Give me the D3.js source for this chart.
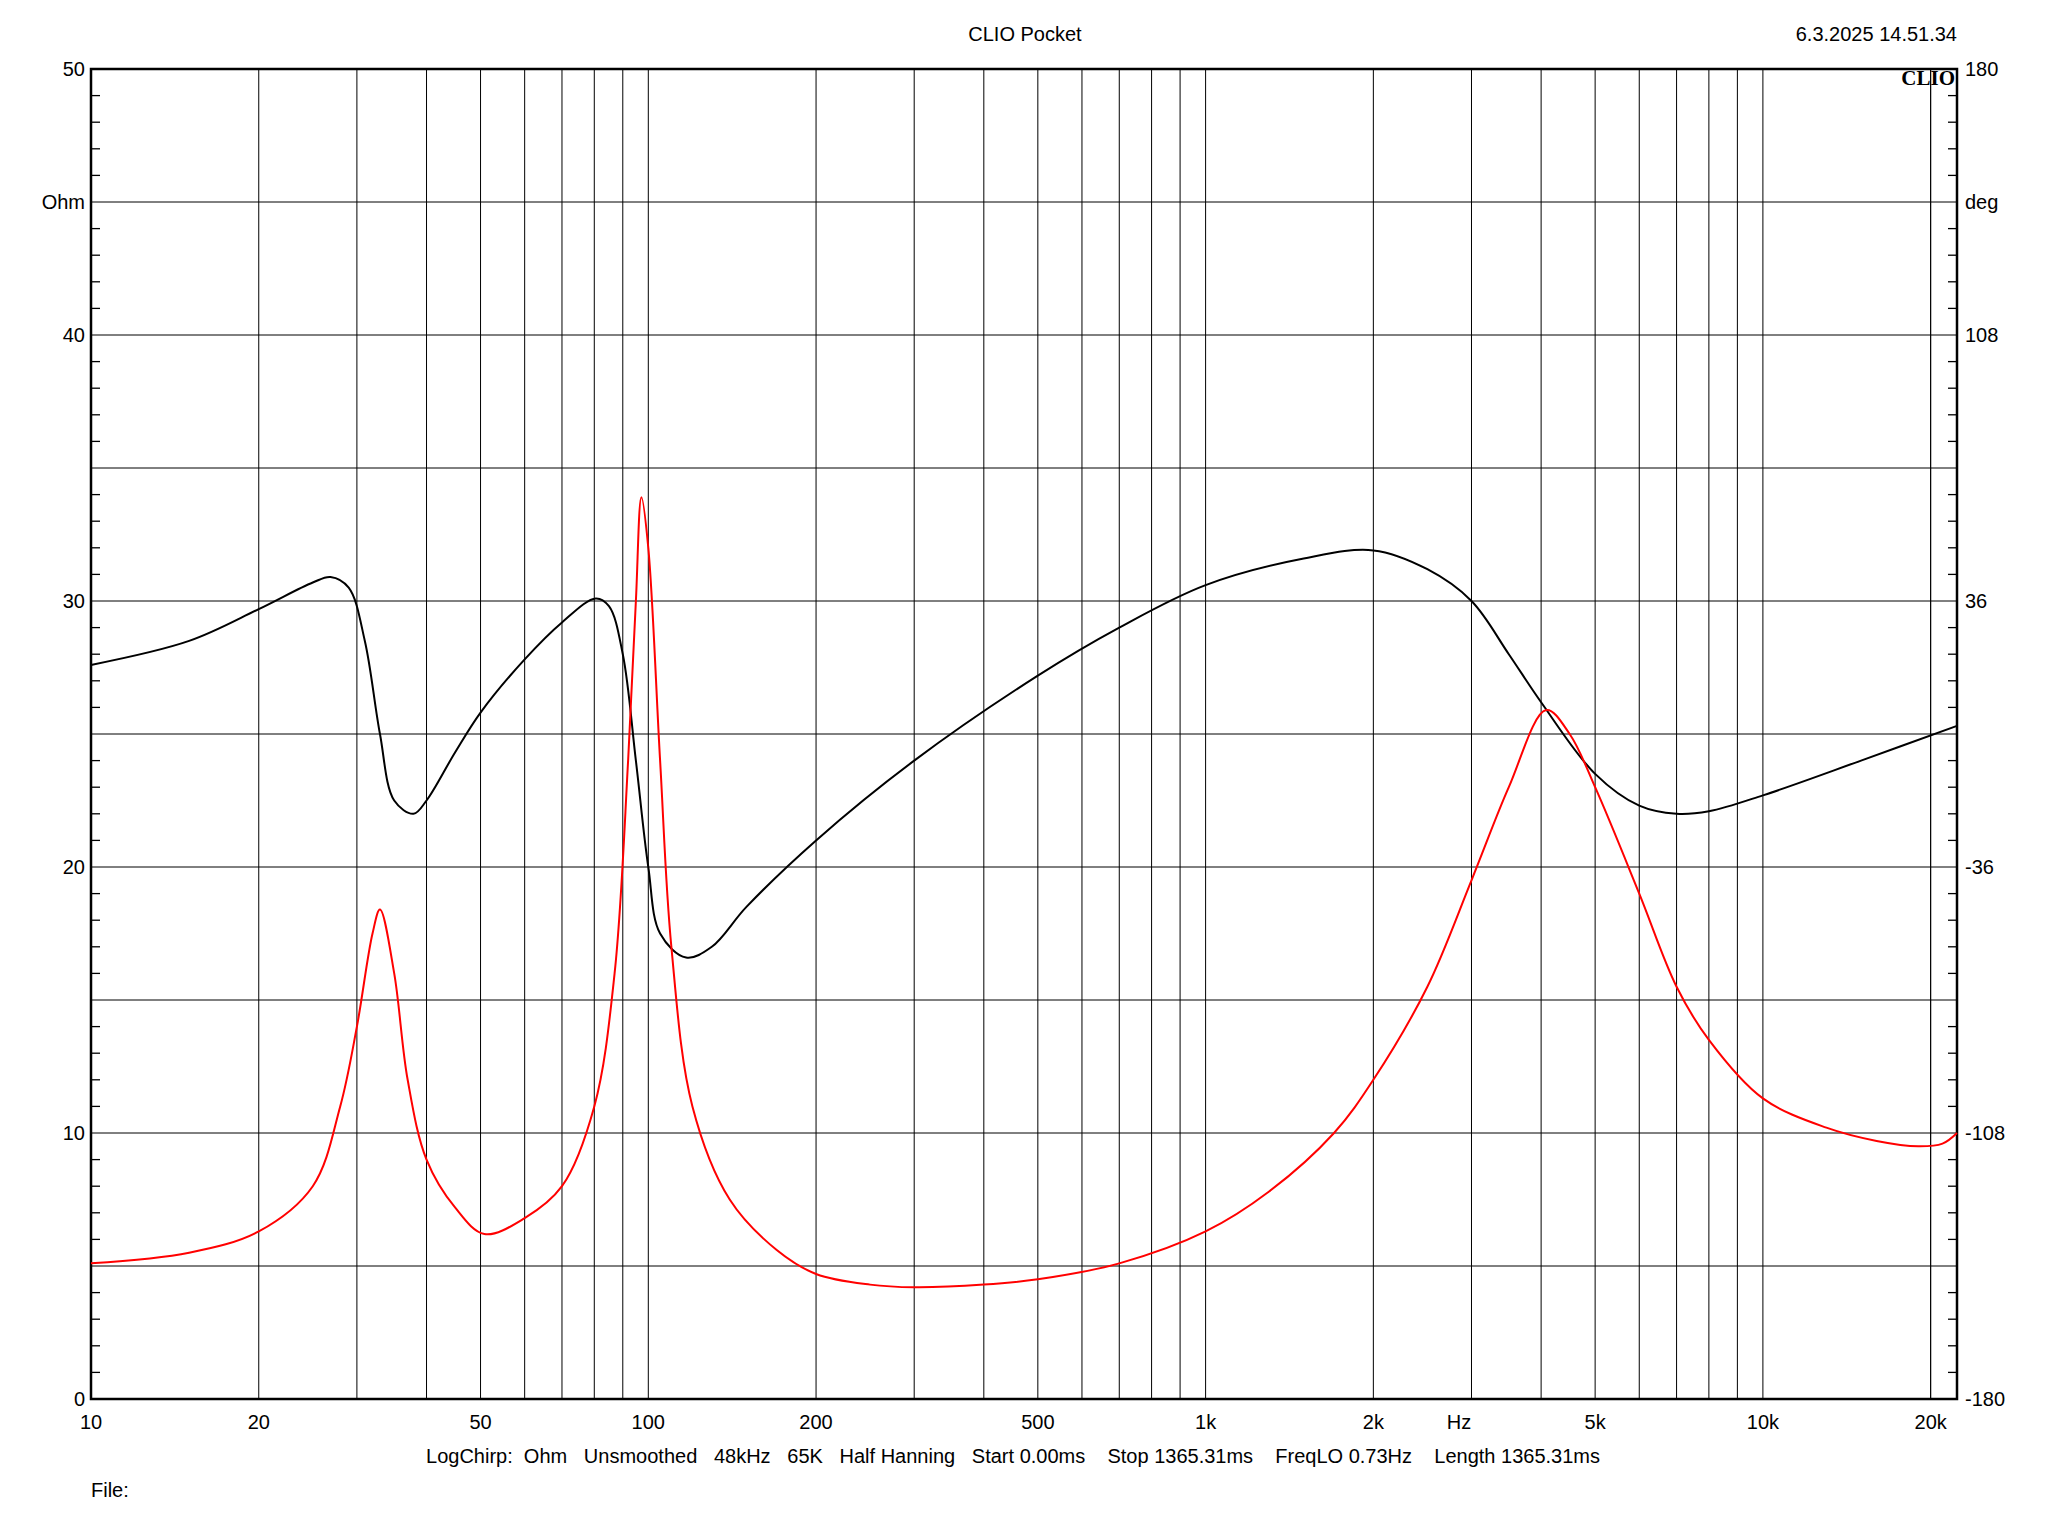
<!DOCTYPE html><html><head><meta charset="utf-8">
<script src="https://cdn.jsdelivr.net/npm/d3@7"></script>
<style>body{margin:0;background:#fff}text{font-family:"Liberation Sans",Arial,sans-serif;font-size:20px;fill:#000}</style>
</head><body><svg id="c" width="2048" height="1536"></svg>
<script>
const freqTicks=[10,20,50,100,200,500,1000,2000,5000,10000,20000];
const freqLabels=["10","20","50","100","200","500","1k","2k","5k","10k","20k"];
const ohmLabels=[0,10,20,30,40,50];
const degLabels=["-180","-108","-36","36","108","180"];
const impFreq=[10,15,20,25,28,30,32,33,35,37,40,45,50.8,60,70,80,87,92,95,97.2,100,105,110,120,140,170,200,250,300,400,500,700,1000,1300,1700,2000,2500,3000,3500,4085,4500,5000,6000,7000,8000,10000,13000,16000,19000,21000,22300];
const impOhm=[5.1,5.5,6.3,8.0,11,14,17.5,18.4,16,12,9,7.2,6.2,6.8,8,11,16,24,30,33.9,32,24,17,11,7.5,5.6,4.7,4.3,4.2,4.3,4.5,5.1,6.3,7.8,10,12,15.5,19.5,23,25.9,25,23,19,15.5,13.5,11.3,10.2,9.7,9.5,9.6,10.0];
const phFreq=[10,15,20,25,26.9,29,31,33,35,37.9,40,45,50,60,70,80.5,85,90,95,100,105,116.9,130,150,200,300,500,700,1000,1500,2000,2500,3000,3500,4000,5000,6000,7000,8000,10000,15000,22300];
const phDeg=[18.7,25.2,33.8,41,42.5,39.6,25.2,0,-18,-21.6,-18,-5,5.8,20.2,30.2,36.7,34.6,21.6,-7.2,-36,-54,-60.5,-57.6,-46.8,-28.8,-7.2,15.8,28.8,40.3,47.5,49.7,44.6,36,21.6,8.6,-10.8,-19.4,-21.6,-20.9,-16.6,-7.2,2.2];

const svg=d3.select("#c");
const L=91,R=1957,T=69,B=1399;
const x=d3.scaleLog().domain([10,22300]).range([L,R]);
const y=d3.scaleLinear().domain([0,50]).range([B,T]);
const yd=d3.scaleLinear().domain([-180,180]).range([B,T]);
const g=svg.append("g");
const vg=[];for(let d=10;d<=10000;d*=10)for(let k=1;k<=9;k++){const f=d*k;if(f>10&&f<22300)vg.push(f);}
vg.push(20000);
g.selectAll(".vg").data(vg).join("line").attr("x1",d=>x(d)).attr("x2",d=>x(d)).attr("y1",T).attr("y2",B).attr("stroke","#000").attr("stroke-width",1);
g.selectAll(".hg").data(d3.range(5,50,5)).join("line").attr("x1",L).attr("x2",R).attr("y1",d=>y(d)).attr("y2",d=>y(d)).attr("stroke","#000").attr("stroke-width",1);
const mt=d3.range(1,50).filter(v=>v%5);
g.selectAll(".ml").data(mt).join("line").attr("x1",L).attr("x2",L+9).attr("y1",d=>y(d)).attr("y2",d=>y(d)).attr("stroke","#000").attr("stroke-width",1.3);
g.selectAll(".mr").data(mt).join("line").attr("x1",R-9).attr("x2",R).attr("y1",d=>y(d)).attr("y2",d=>y(d)).attr("stroke","#000").attr("stroke-width",1.3);
g.append("rect").attr("x",L).attr("y",T).attr("width",R-L).attr("height",B-T).attr("fill","none").attr("stroke","#000").attr("stroke-width",2.5);
const ln=d3.line().curve(d3.curveCatmullRom.alpha(0.5));
svg.append("path").attr("d",ln(phFreq.map((f,i)=>[x(f),yd(phDeg[i])]))).attr("fill","none").attr("stroke","#000").attr("stroke-width",2);
svg.append("path").attr("d",ln(impFreq.map((f,i)=>[x(f),y(impOhm[i])]))).attr("fill","none").attr("stroke","#ff0000").attr("stroke-width",2);
svg.selectAll(".xl").data(freqTicks).join("text").attr("x",d=>x(d)).attr("y",1429).attr("text-anchor","middle").text((d,i)=>freqLabels[i]);
svg.append("text").attr("x",x(2850)).attr("y",1429).attr("text-anchor","middle").text("Hz");
svg.selectAll(".yl").data(ohmLabels).join("text").attr("x",L-6).attr("y",d=>y(d)+7).attr("text-anchor","end").text(d=>d);
svg.selectAll(".dl").data(degLabels).join("text").attr("x",R+8).attr("y",d=>yd(+d)+7).text(d=>d);
svg.append("text").attr("x",L-6).attr("y",y(45)+7).attr("text-anchor","end").text("Ohm");
svg.append("text").attr("x",R+8).attr("y",y(45)+7).text("deg");
svg.append("text").attr("x",1025).attr("y",41).attr("text-anchor","middle").text("CLIO Pocket");
svg.append("text").attr("x",1957).attr("y",41).attr("text-anchor","end").text("6.3.2025 14.51.34");
svg.append("text").attr("x",1955).attr("y",85).attr("text-anchor","end").style("font-family","'Liberation Serif',serif").style("font-weight","bold").style("font-size","21px").text("CLIO");
svg.append("text").attr("x",1013).attr("y",1463).attr("text-anchor","middle").attr("xml:space","preserve").text("LogChirp:  Ohm   Unsmoothed   48kHz   65K   Half Hanning   Start 0.00ms    Stop 1365.31ms    FreqLO 0.73Hz    Length 1365.31ms");
svg.append("text").attr("x",91).attr("y",1497).text("File:");
</script></body></html>
